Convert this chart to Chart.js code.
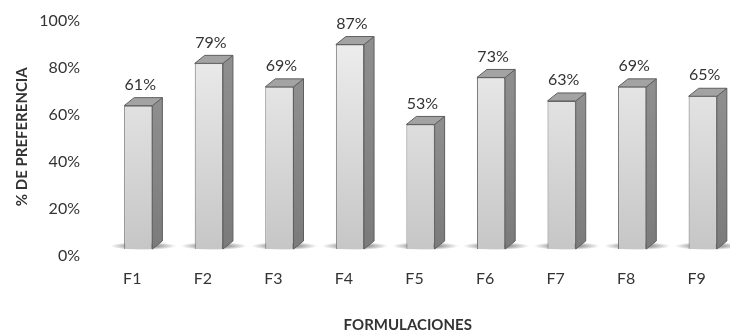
<!DOCTYPE html>
<html>
<head>
<meta charset="utf-8">
<script src="https://cdn.jsdelivr.net/npm/chart.js@4"></script>
<style>
  html, body { margin: 0; padding: 0; background: #fff; overflow: hidden; }
  #wrap { width: 738px; height: 334px; position: relative; }
</style>
</head>
<body>
<div id="wrap"><canvas id="chart"></canvas></div>
<script>
const categories = ['F1', 'F2', 'F3', 'F4', 'F5', 'F6', 'F7', 'F8', 'F9'];
const preference = [0.61, 0.79, 0.69, 0.87, 0.53, 0.73, 0.63, 0.69, 0.65];
const yTicks = [0, 0.2, 0.4, 0.6, 0.8, 1];

const FONT = "Lato, 'Open Sans', sans-serif";
const TEXT = '#333333';
const DEPTH_X = 10;
const DEPTH_Y = -8;

// soft ground shadow under each bar
const shadowPlugin = {
    id: 'groundShadow',
    beforeDatasetsDraw(chart) {
        const ctx = chart.ctx;
        chart.getDatasetMeta(0).data.forEach(bar => {
            const cx = bar.x + DEPTH_X / 2;
            const cy = bar.base - 3;
            ctx.save();
            ctx.translate(cx, cy);
            ctx.scale(1, 0.12);
            const g = ctx.createRadialGradient(0, 0, 0, 0, 0, 33);
            g.addColorStop(0, 'rgba(0,0,0,0.65)');
            g.addColorStop(0.55, 'rgba(0,0,0,0.3)');
            g.addColorStop(1, 'rgba(0,0,0,0)');
            ctx.fillStyle = g;
            ctx.beginPath();
            ctx.arc(0, 0, 33, 0, Math.PI * 2);
            ctx.fill();
            ctx.restore();
        });
    }
};

// side + top faces and value labels
const boxPlugin = {
    id: 'box3d',
    afterDatasetsDraw(chart) {
        const ctx = chart.ctx;
        chart.getDatasetMeta(0).data.forEach((bar, i) => {
            const left = bar.x - bar.width / 2;
            const right = bar.x + bar.width / 2;
            const top = bar.y;
            const base = bar.base;
            ctx.save();
            ctx.lineWidth = 1;
            ctx.strokeStyle = '#5f5f5f';
            ctx.lineJoin = 'round';

            // side face
            const sg = ctx.createLinearGradient(0, top, 0, base);
            sg.addColorStop(0, '#8e8e8e');
            sg.addColorStop(1, '#7b7b7b');
            ctx.fillStyle = sg;
            ctx.beginPath();
            ctx.moveTo(right, top);
            ctx.lineTo(right + DEPTH_X, top + DEPTH_Y);
            ctx.lineTo(right + DEPTH_X, base + DEPTH_Y);
            ctx.lineTo(right, base);
            ctx.closePath();
            ctx.fill();
            ctx.stroke();

            // top face
            ctx.fillStyle = '#a3a3a3';
            ctx.beginPath();
            ctx.moveTo(left, top);
            ctx.lineTo(left + DEPTH_X, top + DEPTH_Y);
            ctx.lineTo(right + DEPTH_X, top + DEPTH_Y);
            ctx.lineTo(right, top);
            ctx.closePath();
            ctx.fill();
            ctx.stroke();

            // value label
            ctx.fillStyle = TEXT;
            ctx.font = '16px ' + FONT;
            ctx.textAlign = 'center';
            ctx.textBaseline = 'middle';
            ctx.fillText(Math.round(preference[i] * 100) + '%', bar.x + 2, top + DEPTH_Y - 13);
            ctx.restore();
        });
    }
};

const ctx = document.getElementById('chart').getContext('2d');
new Chart(ctx, {
    type: 'bar',
    data: {
        labels: categories,
        datasets: [{
            data: preference,
            backgroundColor: (c) => {
                const area = c.chart.chartArea;
                if (!area) return '#dcdcdc';
                const g = c.chart.ctx.createLinearGradient(0, area.top, 0, area.bottom);
                g.addColorStop(0, '#f2f2f2');
                g.addColorStop(1, '#c6c6c6');
                return g;
            },
            borderColor: '#6e6e6e',
            borderWidth: 1,
            barPercentage: 0.4,
            categoryPercentage: 1
        }]
    },
    options: {
        responsive: true,
        maintainAspectRatio: false,
        animation: false,
        layout: { padding: { left: 0, right: 0, top: 14, bottom: 0 } },
        plugins: {
            legend: { display: false },
            tooltip: { enabled: false }
        },
        scales: {
            x: {
                grid: { display: false, drawTicks: false },
                border: { display: false },
                ticks: {
                    color: TEXT,
                    font: { family: FONT, size: 16 },
                    padding: 20,
                    labelOffset: -6
                },
                title: {
                    display: true,
                    text: 'FORMULACIONES\u00a0\u00a0\u00a0\u00a0\u00a0\u00a0\u00a0',
                    color: TEXT,
                    font: { family: FONT, size: 15, weight: 'bold' },
                    padding: { top: 0, bottom: 0 }
                },
                afterFit(scale) {
                    scale.height = 85;
                    scale.paddingLeft = 0;
                    scale.paddingRight = 0;
                }
            },
            y: {
                min: 0,
                max: 1,
                afterBuildTicks(scale) { scale.ticks = yTicks.map(v => ({ value: v })); },
                grid: { display: false, drawTicks: false },
                border: { display: false },
                ticks: {
                    color: TEXT,
                    font: { family: FONT, size: 16 },
                    padding: 23,
                    labelOffset: 7,
                    callback: v => Math.round(v * 100) + '%'
                },
                title: {
                    display: true,
                    text: '% DE PREFERENCIA\u00a0\u00a0\u00a0',
                    color: TEXT,
                    font: { family: FONT, size: 15, weight: 'bold' },
                    padding: { top: 13, bottom: 0 }
                },
                afterFit(scale) {
                    scale.width = 103;
                    scale.paddingTop = 0;
                    scale.paddingBottom = 0;
                }
            }
        }
    },
    plugins: [shadowPlugin, boxPlugin]
});
</script>
</body>
</html>
